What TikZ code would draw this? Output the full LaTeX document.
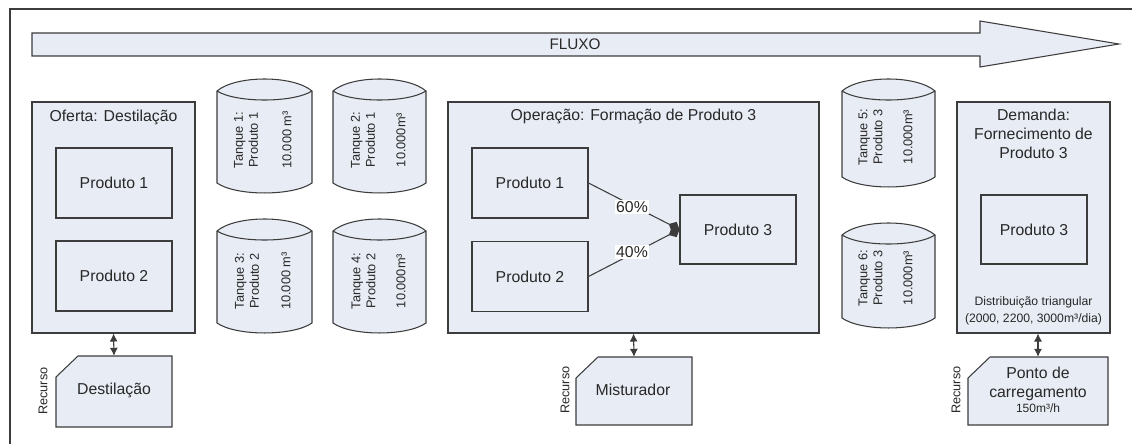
\documentclass[tikz,border=0pt]{standalone}
\usepackage{fontspec}
\setmainfont{Liberation Sans}
\usetikzlibrary{arrows.meta}
\definecolor{boxfill}{RGB}{232,236,245}
\definecolor{edge}{RGB}{60,60,60}
\definecolor{ink}{RGB}{40,40,40}

% storage tank: #1 left x, #2 right x, #3 top of cap, #4 bottom of base
\newcommand\tankdraw[4]{%
  \pgfmathsetmacro\ta{#3+12}%
  \pgfmathsetmacro\tc{#4-10}%
  \pgfmathsetmacro\tu{#3+12-16}%
  \pgfmathsetmacro\tl{#3+12+12}%
  \pgfmathsetmacro\td{#4-10+13.3}%
  \pgfmathsetmacro\xa{#1+0.2*(#2-#1)}%
  \pgfmathsetmacro\xb{#2-0.2*(#2-#1)}%
  \path[draw=edge, fill=boxfill, line width=1.05pt]
    (#1,\ta) .. controls (\xa,\tu) and (\xb,\tu) .. (#2,\ta)
    -- (#2,\tc) .. controls (\xb,\td) and (\xa,\td) .. (#1,\tc) -- cycle;
  \draw[edge, line width=1.05pt]
    (#1,\ta) .. controls (\xa,\tl) and (\xb,\tl) .. (#2,\ta);
}

% resource box with a cut top-left corner: #1 x1, #2 y1, #3 x2, #4 y2
\newcommand\resdraw[4]{%
  \pgfmathsetmacro\ra{#2+21}%
  \pgfmathsetmacro\rb{#1+22}%
  \path[draw=edge, fill=boxfill, line width=1.05pt]
    (#1,\ra) -- (\rb,#2) -- (#3,#2) -- (#3,#4) -- (#1,#4) -- cycle;
}

\tikzset{
  container/.style={draw=edge, fill=boxfill, line width=1.05pt, inner sep=0pt,
    minimum height=231pt},
  prodbox/.style={draw=edge, fill=boxfill, line width=1.05pt, inner sep=0pt,
    text=ink, font=\fontsize{15.8}{19}\selectfont, minimum width=116pt,
    minimum height=70pt},
  title/.style={text=ink, font=\fontsize{15.8}{19}\selectfont, inner sep=0pt,
    align=center},
  tanktxt/.style={text=ink, font=\fontsize{12.8}{15}\selectfont, inner sep=0pt,
    align=center, rotate=90},
  small/.style={text=ink, font=\fontsize{12.2}{17}\selectfont, inner sep=0pt,
    align=center},
  resnode/.style={inner sep=0pt, text=ink, align=center},
  link/.style={draw=edge, line width=1.05pt,
    {Latex[length=8pt,width=8pt]}-{Latex[length=8pt,width=8pt]}},
  mix/.style={draw=edge, line width=1.05pt, -{Diamond[length=12pt,width=11pt]}},
  pct/.style={fill=white, inner sep=1pt, text=ink,
    font=\fontsize{15.8}{19}\selectfont}
}

\begin{document}
\begin{tikzpicture}[x=1pt, y=-1pt]
\useasboundingbox (0,0) rectangle (1132,444);
\fill[white] (0,0) rectangle (1132,444);

% outer frame
\draw[edge, line width=1.4pt] (10,444) -- (10,9) -- (1132,9);

% flow arrow
\path[draw=edge, fill=boxfill, line width=1.05pt]
  (32,33) -- (980,33) -- (980,21) -- (1119,44) -- (980,67) -- (980,56)
  -- (32,56) -- cycle;
\node[title, font=\fontsize{15.3}{18}\selectfont] (fluxo) at (575,44) {FLUXO};

% supply
\node[container, minimum width=163pt] (oferta) at (113.5,217.5) {};
\node[title] (ofertaT) at (113.5,117) {Oferta: Destilação};
\node[prodbox] (of1) at (114,183) {Produto 1};
\node[prodbox] (of2) at (114,276) {Produto 2};

% tanks
\tankdraw{217}{312}{79}{193}
\node[tanktxt] (t1a) at (246,140) {Tanque 1:\\Produto 1};
\node[tanktxt] (t1b) at (287,140) {10.000 m³};
\tankdraw{333}{426}{79}{193}
\node[tanktxt] (t2a) at (363,140) {Tanque 2:\\Produto 1};
\node[tanktxt] (t2b) at (401,140) {10.000m³};
\tankdraw{217}{312}{219}{333}
\node[tanktxt] (t3a) at (247,281) {Tanque 3:\\Produto 2};
\node[tanktxt] (t3b) at (286,281) {10.000 m³};
\tankdraw{333}{426}{219}{333}
\node[tanktxt] (t4a) at (363.5,281) {Tanque 4:\\Produto 2};
\node[tanktxt] (t4b) at (401,281) {10.000m³};
\tankdraw{842}{935}{79}{187}
\node[tanktxt] (t5a) at (870.5,137) {Tanque 5:\\Produto 3};
\node[tanktxt] (t5b) at (908,137) {10.000m³};
\tankdraw{842}{935}{223}{328}
\node[tanktxt] (t6a) at (870.5,278) {Tanque 6:\\Produto 3};
\node[tanktxt] (t6b) at (908,278) {10.000m³};

% blending operation
\node[container, minimum width=371pt] (oper) at (633.5,217.5) {};
\node[title] (operT) at (633.5,116) {Operação: Formação de Produto 3};
\node[prodbox] (op1) at (530,183) {Produto 1};
\node[prodbox] (op2) at (530,276.5) {Produto 2};
\node[prodbox, minimum height=69pt] (op3) at (738,229.5) {Produto 3};
\draw[mix] (op1.east) -- (op3.west);
\draw[mix] (op2.east) -- (op3.west);
\node[pct] (p60) at (632,207) {60\%};
\node[pct] (p40) at (632,252) {40\%};

% demand
\node[container, minimum width=153pt] (dem) at (1033.5,217.5) {};
\node[title] (demT) at (1033.5,134) {Demanda:\\Fornecimento de\\Produto 3};
\node[prodbox, minimum width=106pt, minimum height=69pt] (dm3) at (1034,229.5) {Produto 3};
\node[small] (dist) at (1033.5,310.5) {Distribuição triangular\\(2000, 2200, 3000m³/dia)};

% resources
\resdraw{56}{356}{172}{427}
\node[resnode, minimum width=116pt, minimum height=71pt] (r1) at (114,391.5) {};
\node[title] (r1T) at (114,390) {Destilação};
\node[small, font=\fontsize{12.7}{15}\selectfont, rotate=90] (r1L) at (43,391) {Recurso};
\draw[link] (oferta.south) -- (r1.north);

\resdraw{576}{357}{692}{425}
\node[resnode, minimum width=116pt, minimum height=68pt] (r2) at (634,391) {};
\node[title] (r2T) at (633,390) {Misturador};
\node[small, font=\fontsize{12.7}{15}\selectfont, rotate=90] (r2L) at (565,390) {Recurso};
\draw[link] (oper.south) -- (r2.north);

\resdraw{968}{357}{1108}{425}
\node[resnode, minimum width=140pt, minimum height=68pt] (r3) at (1038,391) {};
\node[title] (r3T) at (1038,384) {Ponto de\\carregamento};
\node[small, font=\fontsize{12}{14}\selectfont] (r3S) at (1038,408) {150m³/h};
\node[small, font=\fontsize{12.7}{15}\selectfont, rotate=90] (r3L) at (956,390) {Recurso};
\draw[link] (r3.north |- dem.south) -- (r3.north);
\end{tikzpicture}
\end{document}
